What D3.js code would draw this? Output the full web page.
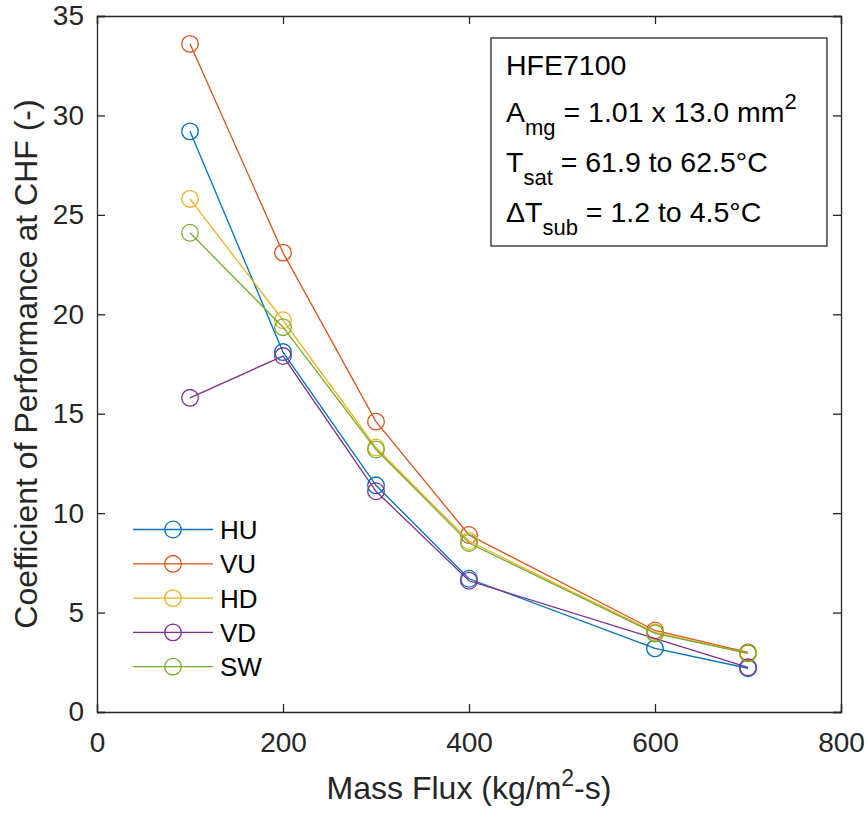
<!DOCTYPE html>
<html>
<head>
<meta charset="utf-8">
<script src="https://cdn.jsdelivr.net/npm/d3@7.9.0/dist/d3.min.js"></script>
<style>
  body { margin: 0; background: #fff; }
  svg { font-family: Arial, "Liberation Sans", Helvetica, sans-serif; }
</style>
</head>
<body>
<div id="chart"></div>
<script>
// data
const massFlux = [100, 200, 300, 400, 600, 700];
const hu = [29.2, 18.1, 11.4, 6.7, 3.2, 2.2];
const vu = [33.6, 23.1, 14.6, 8.9, 4.1, 3.0];
const hd = [25.8, 19.7, 13.3, 8.6, 4.0, 2.95];
const vd = [15.8, 17.9, 11.1, 6.6, null, 2.25]; // no point at 600
const sw = [24.1, 19.35, 13.2, 8.5, 3.95, 2.95];

const seriesNames = ['HU', 'VU', 'HD', 'VD', 'SW'];
const seriesColors = ['#0072BD', '#D95319', '#EDB120', '#7E2F8E', '#77AC30'];
const xTicks = [0, 200, 400, 600, 800];
const yTicks = [0, 5, 10, 15, 20, 25, 30, 35];

const width = 867, height = 814;
const margin = { top: 16, right: 26, bottom: 102, left: 97 };

const svg = d3.select('#chart').append('svg')
  .attr('width', width)
  .attr('height', height);

const x = d3.scaleLinear().domain([0, 800]).range([margin.left, width - margin.right]);
const y = d3.scaleLinear().domain([0, 35]).range([height - margin.bottom, margin.top]);

const axisColor = '#262626';
const tickLen = 8;

// axes (ticks point inward, box on)
const gx = svg.append('g')
  .attr('transform', `translate(0,${y(0)})`)
  .call(d3.axisBottom(x).tickValues(xTicks).tickSize(-tickLen).tickPadding(20));
const gy = svg.append('g')
  .attr('transform', `translate(${x(0)},0)`)
  .call(d3.axisLeft(y).tickValues(yTicks).tickSize(-tickLen).tickPadding(13));
const gxTop = svg.append('g')
  .attr('transform', `translate(0,${y(35)})`)
  .call(d3.axisTop(x).tickValues(xTicks).tickSize(-tickLen).tickFormat(''));
const gyRight = svg.append('g')
  .attr('transform', `translate(${x(800)},0)`)
  .call(d3.axisRight(y).tickValues(yTicks).tickSize(-tickLen).tickFormat(''));

[gx, gy, gxTop, gyRight].forEach(g => {
  g.select('.domain').attr('stroke', axisColor).attr('stroke-width', 1.3);
  g.selectAll('.tick line').attr('stroke', axisColor).attr('stroke-width', 1.3);
  g.selectAll('.tick text')
    .attr('fill', '#262626')
    .attr('font-size', 28)
    .attr('font-family', 'Arial, "Liberation Sans", sans-serif');
});
gx.selectAll('.tick text').attr('dy', '0.71em');

// axis titles
svg.append('text')
  .attr('x', 469)
  .attr('y', 799)
  .attr('text-anchor', 'middle')
  .attr('font-size', 32)
  .attr('fill', '#262626')
  .call(t => {
    t.append('tspan').text('Mass Flux (kg/m');
    t.append('tspan').attr('dy', -13).attr('font-size', 23).text('2');
    t.append('tspan').attr('dy', 13).text('-s)');
  });

svg.append('text')
  .attr('transform', `translate(37,${(y(0) + y(35)) / 2}) rotate(-90)`)
  .attr('text-anchor', 'middle')
  .attr('font-size', 32)
  .attr('fill', '#262626')
  .text('Coefficient of Performance at CHF (-)');

// series
const allSeries = [hu, vu, hd, vd, sw].map((vals, i) => ({
  name: seriesNames[i],
  color: seriesColors[i],
  points: massFlux.map((m, j) => ({ m, v: vals[j] })).filter(d => d.v != null)
}));

const line = d3.line().x(d => x(d.m)).y(d => y(d.v));

allSeries.forEach(s => {
  const g = svg.append('g');
  g.append('path')
    .datum(s.points)
    .attr('d', line)
    .attr('fill', 'none')
    .attr('stroke', s.color)
    .attr('stroke-width', 1.3);
  g.selectAll('circle')
    .data(s.points)
    .enter()
    .append('circle')
    .attr('cx', d => x(d.m))
    .attr('cy', d => y(d.v))
    .attr('r', 8.3)
    .attr('fill', 'none')
    .attr('stroke', s.color)
    .attr('stroke-width', 1.3);
});

// legend (no box)
const legend = svg.append('g');
allSeries.forEach((s, i) => {
  const ly = 529.5 + i * 34.3;
  legend.append('line')
    .attr('x1', 133).attr('x2', 213)
    .attr('y1', ly).attr('y2', ly)
    .attr('stroke', s.color).attr('stroke-width', 1.3);
  legend.append('circle')
    .attr('cx', 173).attr('cy', ly).attr('r', 8.3)
    .attr('fill', 'none').attr('stroke', s.color).attr('stroke-width', 1.3);
  legend.append('text')
    .attr('x', 220).attr('y', ly + 9.5)
    .attr('font-size', 26).attr('fill', '#000')
    .text(s.name);
});

// annotation box
const box = svg.append('g');
box.append('rect')
  .attr('x', 491).attr('y', 38)
  .attr('width', 336).attr('height', 208)
  .attr('fill', '#fff')
  .attr('stroke', '#262626')
  .attr('stroke-width', 1.3);

const fs = 28.5, sub = 22;
box.append('text').attr('x', 506).attr('y', 75).attr('font-size', fs).text('HFE7100');

box.append('text').attr('x', 506).attr('y', 122).attr('font-size', fs)
  .call(t => {
    t.append('tspan').text('A');
    t.append('tspan').attr('dy', 13).attr('font-size', sub).text('mg');
    t.append('tspan').attr('dy', -13).text(' = 1.01 x 13.0 mm');
    t.append('tspan').attr('dy', -13).attr('font-size', sub).text('2');
  });

box.append('text').attr('x', 506).attr('y', 172).attr('font-size', fs)
  .call(t => {
    t.append('tspan').text('T');
    t.append('tspan').attr('dy', 13).attr('font-size', sub).text('sat');
    t.append('tspan').attr('dy', -13).text(' = 61.9 to 62.5°C');
  });

box.append('text').attr('x', 506).attr('y', 222).attr('font-size', fs)
  .call(t => {
    t.append('tspan').text('ΔT');
    t.append('tspan').attr('dy', 13).attr('font-size', sub).text('sub');
    t.append('tspan').attr('dy', -13).text(' = 1.2 to 4.5°C');
  });
</script>
</body>
</html>
